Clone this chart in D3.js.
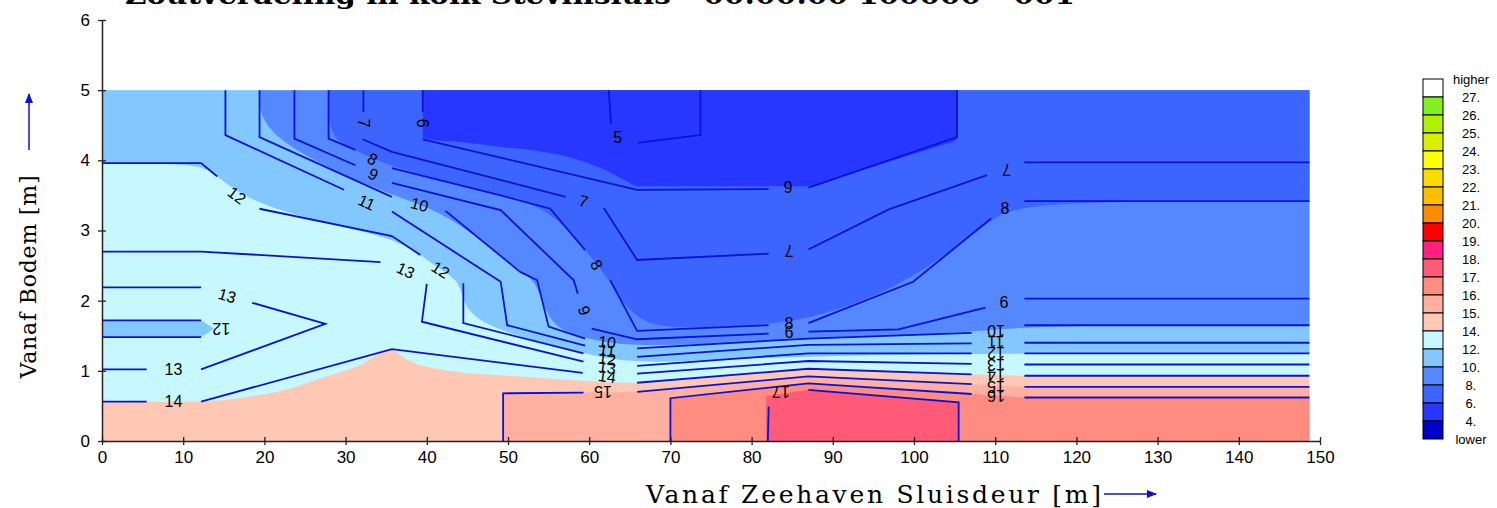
<!DOCTYPE html>
<html>
<head>
<meta charset="utf-8">
<script src="https://cdn.jsdelivr.net/npm/d3@7"></script>
<style>
  body { margin: 0; background: #fff; }
</style>
</head>
<body>
<div id="chart"></div>
<script>
// chart values (x in m from the sea lock gate, y in m above the bottom)
var xTicks = d3.range(0, 151, 10);
var yTicks = d3.range(0, 7, 1);
var dataRight = 148.7, dataTop = 5;

var legendLabels = ["higher", "27.", "26.", "25.", "24.", "23.", "22.", "21.", "20.", "19.", "18.",
                    "17.", "16.", "15.", "14.", "12.", "10.", "8.", "6.", "4.", "lower"];
var legendColors = ["#ffffff", "#80f020", "#b0f000", "#d8f000", "#ffff00", "#ffdc00", "#ffbe00",
                    "#ff8c00", "#ff0000", "#ff2080", "#ff5a78", "#ff8c80", "#ffb0a0", "#ffc8b4",
                    "#c8f8ff", "#82c8ff", "#5587ff", "#3c64ff", "#2837ff", "#0000c8"];

// contour lines, one array of segments per level (gaps are where the labels sit)
var line5 = [[[62.4,5.0],[62.7,4.52]], [[66.0,4.25],[73.7,4.36],[73.7,5.0]]];
var line6 = [[[39.5,5.0],[39.5,4.69]], [[39.5,4.30],[65.9,3.58],[82.1,3.59]],
             [[87.0,3.61],[105.3,4.33],[105.3,5.0]]];
var line7 = [[[32.2,5.0],[32.2,4.69]], [[32.1,4.30],[35.7,4.12],[57.1,3.48]],
             [[61.8,3.32],[65.9,2.58],[82.1,2.67]], [[87.0,2.73],[96.9,3.30],[109.0,3.79]],
             [[113.6,3.97],[148.7,3.97]]];
var line8 = [[[27.9,5.0],[27.9,4.31],[31.2,4.15]], [[35.7,3.89],[49.1,3.50],[55.2,3.31],[59.5,2.72]],
             [[62.6,2.29],[65.9,1.57],[82.1,1.65]], [[87.0,1.68],[99.9,2.27],[109.5,3.17]],
             [[113.6,3.42],[148.7,3.42]]];
var line9 = [[[23.7,5.0],[23.7,4.31],[31.2,3.93]], [[35.7,3.68],[49.1,3.29],[58.1,2.29],[58.6,2.10]],
             [[60.3,1.60],[65.9,1.45],[82.1,1.53]], [[87.0,1.56],[98.1,1.59],[108.8,1.90]],
             [[113.6,2.03],[148.7,2.03]]];
var line10 = [[[19.4,5.0],[19.4,4.33],[35.7,3.48]],
              [[42.3,3.28],[51.5,2.41],[53.6,2.29],[55.0,1.63],[59.5,1.46]],
              [[65.9,1.32],[87.0,1.46],[107.1,1.54]], [[113.6,1.65],[148.7,1.65]]];
var line11 = [[[15.2,5.0],[15.2,4.36],[29.8,3.58]],
              [[35.7,3.27],[49.1,2.27],[49.9,1.65],[59.5,1.36]],
              [[65.9,1.20],[87.0,1.37],[107.1,1.39]], [[113.6,1.40],[148.7,1.40]]];
var line12 = [[[0,3.96],[12.2,3.96],[14.2,3.77]], [[19.4,3.31],[35.7,2.92],[39.2,2.65]],
              [[44.5,2.25],[44.5,1.68],[59.3,1.25]], [[65.9,1.07],[87.0,1.25],[107.1,1.25]],
              [[113.6,1.25],[148.7,1.25]], [[0,1.72],[12.2,1.72]], [[0,1.48],[12.2,1.48]]];
var line13 = [[[0,2.70],[12.2,2.70],[34.3,2.55]], [[40.0,2.24],[39.4,1.70],[59.3,1.13]],
              [[65.9,0.96],[87.0,1.14],[107.1,1.10]], [[113.6,1.09],[148.7,1.09]],
              [[0,2.19],[12.2,2.19]], [[18.5,1.97],[27.5,1.67],[12.2,1.02]], [[5.5,1.02],[0,1.02]]];
var line14 = [[[0,0.56],[5.5,0.56]], [[12.2,0.56],[35.7,1.31],[59.2,0.97]],
              [[65.9,0.83],[87.0,1.03],[107.1,0.95]], [[113.6,0.93],[148.7,0.93]]];
var line15 = [[[49.4,0],[49.4,0.68],[59.3,0.69]], [[65.9,0.70],[87.0,0.92],[107.1,0.81]],
              [[113.6,0.77],[148.7,0.77]]];
var line16 = [[[70.0,0],[70.0,0.61],[87.0,0.82],[107.1,0.67]], [[113.6,0.62],[148.7,0.62]]];
var line17 = [[[82.0,0],[82.1,0.49]], [[87.0,0.73],[105.5,0.55],[105.5,0]]];

var contourLines = [line5, line6, line7, line8, line9, line10, line11, line12,
                    line13, line14, line15, line16, line17];

// label text, x, y, rotation (deg)
var contourLabels = [
  ["5", 63.5, 4.33, 0],
  ["6", 39.5, 4.53, 90], ["6", 84.5, 3.62, 180],
  ["7", 32.2, 4.53, 90], ["7", 59.3, 3.42, 16], ["7", 84.6, 2.71, 180], ["7", 111.4, 3.87, 180],
  ["8", 33.3, 4.02, 27], ["8", 60.9, 2.51, 60], ["8", 84.6, 1.68, 0], ["8", 111.2, 3.31, 0],
  ["9", 33.4, 3.80, 27], ["9", 59.4, 1.86, 70], ["9", 84.6, 1.56, 180], ["9", 111.1, 1.98, 180],
  ["10", 39.1, 3.37, 15], ["10", 62.2, 1.41, 8], ["10", 110.1, 1.58, 180],
  ["11", 32.6, 3.40, 25], ["11", 62.2, 1.29, 8], ["11", 110.1, 1.41, 180],
  ["12", 16.6, 3.50, 37], ["12", 41.7, 2.44, 33], ["12", 14.7, 1.60, 180],
  ["12", 62.2, 1.17, 8], ["12", 110.1, 1.26, 180],
  ["13", 37.4, 2.43, 25], ["13", 15.4, 2.07, 17], ["13", 8.8, 1.02, 0],
  ["13", 62.2, 1.05, 8], ["13", 110.1, 1.09, 180],
  ["14", 8.8, 0.56, 0], ["14", 62.2, 0.92, 8], ["14", 110.1, 0.94, 180],
  ["15", 61.7, 0.71, 180], ["15", 110.1, 0.78, 180],
  ["16", 110.1, 0.64, 180],
  ["17", 83.6, 0.70, 180]
];

// edges of the coloured bands (the fill is smoother than the lines)
var fill12 = [[0,3.96],[12.2,3.96],[14.2,3.77],[19.4,3.31],[35.7,2.92],[39.2,2.65],[41.7,2.44],
              [44.5,2.25],[44.5,1.68],[59.3,1.25],[65.9,1.07],[87.0,1.25],[148.7,1.25]];
var fillTongue = [[0,1.72],[12.2,1.72],[13.8,1.60],[12.2,1.48],[0,1.48]];
var fill10 = [[19.4,5.0],[19.4,4.33],[35.7,3.48],[42.3,3.28],[51.5,2.41],[53.6,2.29],[55.0,1.63],
              [59.5,1.46],[65.9,1.32],[87.0,1.46],[107.1,1.54],[113.6,1.65],[148.7,1.65]];
var fill8 = [[27.9,5.0],[27.9,4.31],[31.2,4.15],[35.7,3.89],[49.1,3.50],[55.2,3.31],[59.5,2.72],
             [62.6,2.29],[65.9,1.60],[75.0,1.62],[87.0,1.68],[99.9,2.27],[109.5,3.17],[113.6,3.42],[148.7,3.42]];
var fill6 = [[39.5,5.0],[39.5,4.31],[45.0,4.25],[49.1,4.19],[53.2,4.14],[57.3,4.05],[61.4,3.89],
             [64.7,3.70],[65.9,3.63],[87.0,3.63],[92.0,3.80],[98.0,4.02],[103.0,4.20],[105.3,4.30],[105.3,5.0]];
var fill14 = [[0,0.56],[12.2,0.56],[18.0,0.63],[23.2,0.75],[26.9,0.89],[31.4,1.06],[35.7,1.30],
              [37.5,1.16],[43.3,0.99],[51.5,0.92],[59.3,0.86],[65.9,0.83],[87.0,1.03],[107.1,0.95],
              [113.6,0.93],[148.7,0.93]];
var fill15 = [[49.4,0],[49.4,0.68],[59.3,0.69],[65.9,0.70],[87.0,0.92],[107.1,0.81],[113.6,0.77],[148.7,0.77]];
var fill16 = [[70.0,0],[70.0,0.61],[87.0,0.82],[107.1,0.67],[113.6,0.62],[148.7,0.62]];
var fill17 = [[81.8,0],[81.8,0.64],[87.0,0.73],[105.5,0.55],[105.5,0]];

// set the dimensions and margins of the graph
var margin = {top: 20, left: 102},
    width = 1218,
    height = 421;

var svg = d3.select("#chart")
  .append("svg")
    .attr("width", 1497)
    .attr("height", 508);

var g = svg.append("g")
    .attr("transform", "translate(" + margin.left + "," + margin.top + ")");

var x = d3.scaleLinear().domain([0, 150]).range([0, width]);
var y = d3.scaleLinear().domain([0, 6]).range([height, 0]);

function band(edge, closure, curve, color) {
  var path = d3.line()
      .x(function(d) { return x(d[0]); })
      .y(function(d) { return y(d[1]); })
      .curve(curve)(edge);
  closure.forEach(function(p) { path += "L" + x(p[0]) + "," + y(p[1]); });
  g.append("path").attr("d", path + "Z").attr("fill", color);
}

// background band 12-14
g.append("rect")
    .attr("x", x(0)).attr("y", y(dataTop))
    .attr("width", x(dataRight) - x(0)).attr("height", y(0) - y(dataTop))
    .attr("fill", legendColors[14]);

band(fill12, [[dataRight, dataTop], [0, dataTop]], d3.curveBasis, legendColors[15]);
band(fillTongue, [], d3.curveLinear, legendColors[15]);
band(fill10, [[dataRight, dataTop]], d3.curveBasis, legendColors[16]);
band(fill8, [[dataRight, dataTop]], d3.curveBasis, legendColors[17]);
band(fill6, [], d3.curveMonotoneX, legendColors[18]);
band(fill14, [[dataRight, 0], [0, 0]], d3.curveMonotoneX, legendColors[13]);
band(fill15, [[dataRight, 0]], d3.curveLinear, legendColors[12]);
band(fill16, [[dataRight, 0]], d3.curveLinear, legendColors[11]);
band(fill17, [], d3.curveLinear, legendColors[10]);

// contour lines
var line = d3.line()
    .x(function(d) { return x(d[0]); })
    .y(function(d) { return y(d[1]); });

contourLines.forEach(function(level) {
  g.selectAll(null)
    .data(level)
    .enter()
    .append("path")
      .attr("d", line)
      .attr("fill", "none")
      .attr("stroke", "#0a12d6")
      .attr("stroke-width", 1.8);
});

g.selectAll(".clabel")
  .data(contourLabels)
  .enter()
  .append("text")
    .attr("class", "clabel")
    .attr("transform", function(d) { return "translate(" + x(d[1]) + "," + y(d[2]) + ") rotate(" + d[3] + ")"; })
    .attr("text-anchor", "middle")
    .attr("dy", "0.35em")
    .style("font-family", "Liberation Sans, Arial, sans-serif")
    .style("font-size", "16px")
    .style("fill", "#000")
    .text(function(d) { return d[0]; });

// axes
var xAxis = g.append("g")
    .attr("transform", "translate(0," + height + ")")
    .call(d3.axisBottom(x).tickValues(xTicks).tickSize(4).tickSizeOuter(0).tickPadding(6));
xAxis.selectAll(".tick line").attr("y1", -4).attr("y2", 4);

var yAxis = g.append("g")
    .call(d3.axisLeft(y).tickValues(yTicks).tickFormat(d3.format("d"))
      .tickSize(4).tickSizeOuter(0).tickPadding(8));
yAxis.selectAll(".tick line").attr("x1", -4).attr("x2", 4);

[xAxis, yAxis].forEach(function(a) {
  a.select(".domain").attr("stroke", "#222").attr("stroke-width", 1.5);
  a.selectAll(".tick line").attr("stroke", "#222").attr("stroke-width", 1.3);
  a.selectAll("text")
    .style("font-family", "Liberation Sans, Arial, sans-serif")
    .style("font-size", "17px")
    .style("fill", "#000");
});

// legend
var legend = svg.append("g").attr("transform", "translate(1423,79)");
legend.selectAll("rect")
  .data(legendColors)
  .enter()
  .append("rect")
    .attr("x", 0)
    .attr("y", function(d, i) { return i * 18; })
    .attr("width", 20)
    .attr("height", 18)
    .attr("fill", function(d) { return d; })
    .attr("stroke", "#000")
    .attr("stroke-width", 1);
legend.selectAll("text")
  .data(legendLabels)
  .enter()
  .append("text")
    .attr("x", 48)
    .attr("y", function(d, i) { return i * 18; })
    .attr("dy", "0.35em")
    .attr("text-anchor", "middle")
    .style("font-family", "Liberation Sans, Arial, sans-serif")
    .style("font-size", "13px")
    .text(function(d) { return d; });

// titles
svg.append("text")
    .attr("x", 125)
    .attr("y", 4)
    .attr("textLength", 950)
    .attr("lengthAdjust", "spacingAndGlyphs")
    .style("font-family", "DejaVu Serif, serif")
    .style("font-weight", "bold")
    .style("font-size", "26px")
    .text("Zoutverdeling in kolk Stevinsluis - 00:00:00 100000 - 001");

svg.append("text")
    .attr("transform", "translate(36,277) rotate(-90)")
    .attr("text-anchor", "middle")
    .attr("textLength", 203)
    .attr("lengthAdjust", "spacing")
    .style("font-family", "DejaVu Serif, serif")
    .style("font-size", "22px")
    .text("Vanaf Bodem [m]");

svg.append("text")
    .attr("x", 646)
    .attr("y", 503)
    .attr("textLength", 455)
    .attr("lengthAdjust", "spacing")
    .style("font-family", "DejaVu Serif, serif")
    .style("font-size", "25px")
    .text("Vanaf Zeehaven Sluisdeur [m]");

// arrows
var defs = svg.append("defs");
defs.append("marker")
    .attr("id", "arrow")
    .attr("viewBox", "0 0 10 10")
    .attr("refX", 9).attr("refY", 5)
    .attr("markerWidth", 7).attr("markerHeight", 7)
    .attr("orient", "auto")
  .append("path")
    .attr("d", "M0,1L10,5L0,9Z")
    .attr("fill", "#0a14d0");

svg.append("line")
    .attr("x1", 29).attr("y1", 150).attr("x2", 29).attr("y2", 94)
    .attr("stroke", "#0a14d0").attr("stroke-width", 1.5)
    .attr("marker-end", "url(#arrow)");
svg.append("line")
    .attr("x1", 1104).attr("y1", 494).attr("x2", 1156).attr("y2", 494)
    .attr("stroke", "#0a14d0").attr("stroke-width", 1.5)
    .attr("marker-end", "url(#arrow)");
</script>
</body>
</html>
